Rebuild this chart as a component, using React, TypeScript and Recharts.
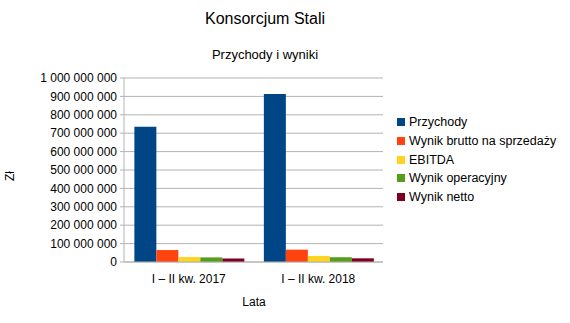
import React from 'react';
import { BarChart, Bar, XAxis, YAxis, CartesianGrid, Legend } from 'recharts';

const periods = ['I – II kw. 2017', 'I – II kw. 2018'];
const przychody = [735000000, 913000000];
const wynikBrutto = [65000000, 67000000];
const ebitda = [27000000, 33000000];
const wynikOperacyjny = [25000000, 26000000];
const wynikNetto = [19000000, 20000000];
const yTicks = [0, 100000000, 200000000, 300000000, 400000000, 500000000, 600000000, 700000000, 800000000, 900000000, 1000000000];

const series = [
  { key: 'przychody', name: 'Przychody', color: '#004586' },
  { key: 'wynikBrutto', name: 'Wynik brutto na sprzedaży', color: '#ff420e' },
  { key: 'ebitda', name: 'EBITDA', color: '#ffd320' },
  { key: 'wynikOperacyjny', name: 'Wynik operacyjny', color: '#579d1c' },
  { key: 'wynikNetto', name: 'Wynik netto', color: '#7e0021' },
];

const data = periods.map((period, i) => ({
  period,
  idx: i + 0.5,
  przychody: przychody[i],
  wynikBrutto: wynikBrutto[i],
  ebitda: ebitda[i],
  wynikOperacyjny: wynikOperacyjny[i],
  wynikNetto: wynikNetto[i],
}));

const FONT = '"Liberation Sans", Arial, sans-serif';

const formatNumber = (v: number) => String(v).replace(/\B(?=(\d{3})+(?!\d))/g, ' ');

const LegendContent = () => (
  <div style={{ fontFamily: FONT, fontSize: 12.5, color: '#000' }}>
    {series.map(s => (
      <div key={s.key} style={{ display: 'flex', alignItems: 'center', height: 18.7 }}>
        <span style={{ display: 'inline-block', width: 8, height: 8, background: s.color, marginRight: 4 }} />
        <span>{s.name}</span>
      </div>
    ))}
  </div>
);

export default function App() {
  return (
    <div style={{ position: 'absolute', left: 0, top: 0, width: 570, height: 323, background: '#fff', fontFamily: FONT }}>
      <BarChart
        width={570}
        height={323}
        data={data}
        margin={{ top: 78, right: 187, left: 0, bottom: 0 }}
        barCategoryGap="8%"
        barGap={0}
      >
        <text x={265} y={24} textAnchor="middle" fontSize={16} fontFamily={FONT} fill="#000">Konsorcjum Stali</text>
        <text x={265} y={59} textAnchor="middle" fontSize={13} fontFamily={FONT} fill="#000">Przychody i wyniki</text>
        <text x={14} y={176} textAnchor="middle" fontSize={12} fontFamily={FONT} fill="#000" transform="rotate(-90 14 176)">Zł</text>
        <text x={254} y={306} textAnchor="middle" fontSize={12} fontFamily={FONT} fill="#000">Lata</text>
        <CartesianGrid vertical={false} stroke="#b3b3b3" />
        <XAxis
          xAxisId="bounds"
          type="number"
          dataKey="idx"
          domain={[0, 2]}
          ticks={[0, 1, 2]}
          height={0}
          axisLine={false}
          tick={false}
          tickLine={{ stroke: '#b3b3b3' }}
          tickSize={5}
        />
        <XAxis
          dataKey="period"
          height={61}
          axisLine={{ stroke: '#b3b3b3' }}
          tickLine={false}
          tick={{ fill: '#000', fontSize: 12, fontFamily: FONT }}
          tickMargin={6}
        />
        <YAxis
          width={124}
          domain={[0, 1000000000]}
          ticks={yTicks}
          interval={0}
          tickFormatter={formatNumber}
          axisLine={{ stroke: '#b3b3b3' }}
          tickLine={{ stroke: '#b3b3b3' }}
          tickSize={4}
          tick={{ fill: '#000', fontSize: 12, fontFamily: FONT }}
          tickMargin={3}
        />
        <Legend
          layout="vertical"
          align="center"
          verticalAlign="middle"
          content={<LegendContent />}
          wrapperStyle={{ position: 'absolute', left: 397, top: 113, width: 170 }}
        />
        {series.map(s => (
          <Bar key={s.key} dataKey={s.key} name={s.name} fill={s.color} isAnimationActive={false} />
        ))}
      </BarChart>
    </div>
  );
}
